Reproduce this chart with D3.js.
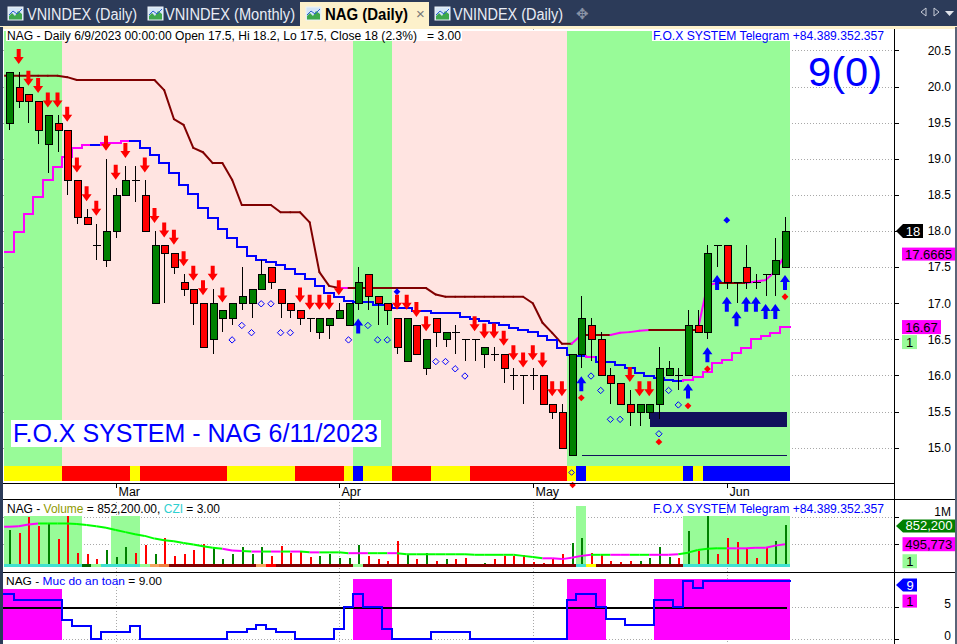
<!DOCTYPE html>
<html><head><meta charset="utf-8">
<script src="https://cdn.jsdelivr.net/npm/d3@7"></script>
<style>
body{margin:0;background:#fff;overflow:hidden}
svg{display:block}
text{font-family:"Liberation Sans",Arial,sans-serif;white-space:pre}
</style></head><body>
<svg id="c" width="957" height="644"></svg>
<script>
// ---------------- DATA ----------------
const dates = ["2023-02-14","2023-02-15","2023-02-16","2023-02-17","2023-02-20","2023-02-21","2023-02-22","2023-02-23","2023-02-24","2023-02-27","2023-02-28",
"2023-03-01","2023-03-02","2023-03-03","2023-03-06","2023-03-07","2023-03-08","2023-03-09","2023-03-10","2023-03-13","2023-03-14","2023-03-15","2023-03-16","2023-03-17","2023-03-20","2023-03-21","2023-03-22","2023-03-23","2023-03-24","2023-03-27","2023-03-28","2023-03-29","2023-03-30","2023-03-31",
"2023-04-03","2023-04-04","2023-04-05","2023-04-06","2023-04-07","2023-04-10","2023-04-11","2023-04-12","2023-04-13","2023-04-14","2023-04-17","2023-04-18","2023-04-19","2023-04-20","2023-04-21","2023-04-24","2023-04-25","2023-04-26","2023-04-27","2023-04-28",
"2023-05-04","2023-05-05","2023-05-08","2023-05-09","2023-05-10","2023-05-11","2023-05-12","2023-05-15","2023-05-16","2023-05-17","2023-05-18","2023-05-19","2023-05-22","2023-05-23","2023-05-24","2023-05-25","2023-05-26","2023-05-29","2023-05-30","2023-05-31",
"2023-06-01","2023-06-02","2023-06-05","2023-06-06","2023-06-07","2023-06-08","2023-06-09"];
const open = [19.5,20.0,19.9,19.8,19.2,19.5,19.4,18.7,18.2,17.8, 17.6,18.0,18.5,18.7,18.5,17.0,17.8,17.7,17.3,17.2, 17.0,16.5,16.8,16.8,17.0,17.0,17.2,17.5,17.2,17.0, 16.9,16.8,16.6,16.7,16.8,16.7,17.0,17.4,17.1,17.0, 16.8,16.2,16.7,16.1,16.8,16.5,16.6,16.5,16.5,16.3, 16.3,16.3,16.0,16.0,16.0,16.0,15.6,15.5,14.9,16.3, 16.7,16.5,16.0,15.9,15.6,15.5,15.5,15.6,16.0,16.0, 16.0,16.7,16.6,17.8,17.8,17.3,17.5,17.3,17.4,17.4, 17.5];
const high = [20.2,20.2,19.9,19.8,19.6,19.6,19.4,18.7,18.3,18.1, 19.0,18.6,18.9,18.9,18.7,18.0,17.8,17.7,17.4,17.2, 17.0,17.2,16.9,17.0,17.5,17.2,17.6,17.5,17.2,17.0, 16.9,16.8,16.8,16.8,17.0,17.0,17.5,17.4,17.1,17.0, 16.8,16.8,16.7,16.5,16.8,16.6,16.7,16.5,16.5,16.4, 16.4,16.3,16.1,16.0,16.1,16.0,15.6,15.6,16.3,17.1, 16.8,16.6,16.1,15.9,15.8,15.6,15.6,16.4,16.2,16.1, 16.9,16.9,17.8,17.8,17.8,17.3,17.8,17.4,17.4,17.9, 18.2];
const low = [19.4,19.7,19.5,19.2,18.8,19.1,18.5,18.1,18.1,17.6, 17.5,17.9,18.5,18.4,18.0,17.0,17.0,17.4,17.1,16.7, 16.4,16.3,16.6,16.7,16.9,16.8,17.2,17.2,16.8,16.8, 16.7,16.6,16.5,16.5,16.8,16.7,16.9,16.9,16.7,16.7, 16.3,16.2,16.3,16.0,16.4,16.4,16.3,16.2,16.2,16.1, 16.2,15.9,15.8,15.6,15.8,15.6,15.4,15.0,14.9,16.1, 16.2,16.0,15.6,15.6,15.3,15.3,15.4,15.4,16.0,15.8, 16.0,16.6,16.5,17.5,17.2,17.0,17.2,17.2,17.1,17.1, 17.5];
const close = [20.2,19.8,19.8,19.4,19.6,19.4,18.7,18.2,18.1,17.8, 18.0,18.5,18.7,18.7,18.0,17.8,17.7,17.5,17.2,17.0, 16.4,17.0,16.9,17.0,17.1,17.2,17.4,17.3,17.0,16.9, 16.8,16.8,16.8,16.8,16.9,17.0,17.3,17.1,17.0,16.9, 16.4,16.8,16.3,16.5,16.6,16.6,16.6,16.5,16.5,16.4, 16.3,16.1,16.0,16.0,16.0,15.6,15.5,15.0,16.3,16.8, 16.5,16.0,15.9,15.6,15.5,15.6,15.6,16.1,16.1,16.0, 16.7,16.6,17.7,17.8,17.3,17.3,17.3,17.3,17.4,17.6, 18.0];
// trailing stop line (upper) and step line (lower)
const stopLine = [20.15,20.15,20.15,20.15,20.15,20.15,20.13,20.09,20.09,20.09, 20.09,20.09,20.09,20.09,20.09,20.09,19.95,19.55,19.47,19.15, 19.09,18.94,18.94,18.71,18.36,18.36,18.36,18.36,18.26,18.26, 18.26,18.12,17.43,17.24,17.21,17.21,17.21,17.21,17.21,17.21, 17.21,17.21,17.21,17.21,17.12,17.09,17.09,17.09,17.09,17.09, 17.09,17.09,17.09,17.09,17.00,16.73,16.59,16.44,16.44,16.56, 16.56,16.56,16.56,16.59,16.60,16.62,16.63,16.63,16.63,16.63, 16.63,16.63,17.25,17.28,17.28,17.28,17.28,17.30,17.32,17.44, 17.6665];
const stopColor = ("KKKKKKKKKKKKKKKKKKKKKKKKKKKKKKKKKKK"+"M"+"KKKKKKKKKKKKKKKKKKKKKKK"+"M"+"KKK"+"MMMM"+"KKKKK"+"MM"+"KKK"+"MMMM").split("");
const stepLine = [17.71,17.99,18.24,18.47,18.71,18.89,19.02,19.15,19.19,19.19, 19.22,19.22,19.25,19.25,19.15,19.05,18.94,18.80,18.64,18.51, 18.32,18.18,18.03,17.90,17.78,17.65,17.60,17.57,17.53,17.47, 17.41,17.33,17.24,17.14,17.08,17.03,17.02,17.02,16.98,16.98, 16.93,16.93,16.89,16.89,16.86,16.86,16.86,16.81,16.78,16.75, 16.73,16.70,16.66,16.63,16.60,16.55,16.49,16.38,16.28,16.27, 16.26,16.19,16.19,16.14,16.10,16.03,15.99,15.96,15.94,15.92, 15.94,15.98,16.05,16.17,16.21,16.31,16.38,16.51,16.55,16.59, 16.67];
const stepColor = ("MMMMMMMMM"+"B"+"MMM"+"BBBBBBBBBBBBBBBBBBBBBBBBBBBBBBBBBBBBBBBBBBBBBBB"+"M"+"BBBBBBBBB"+"MMMMMMMMMMM").split("");
// background zones (G = buy zone, P = sell zone) and signal band
const zone = ("GGGGGG"+"PPPPPPPPPPPPPPPPPPPPPPPPPPPPPP"+"GGGG"+"PPPPPPPPPPPPPPPPPP"+"GGGGGGGGGGGGGGGGGGGGGGG").split("");
const band = ("YYYYYY"+"RRRRRRR"+"Y"+"RRRRRRRRR"+"YYYYYYY"+"RRRRR"+"Y"+"B"+"YYY"+"RRRR"+"YYYY"+"RRRRRRRRRR"+"Y"+"B"+"YYYYYYYYYY"+"B"+"Y"+"BBBBBBBBB").split("");
// signal markers (bar indices / price levels)
const sellArrows = [1,2,3,4,5,6,7,8,9,10,11,12,14,15,16,17,18,19,20,21,22,30,31,32,33,34,40,41,42,43,48,49,50,51,52,53,54,55,56,57,64,65,66];
const buyArrows = [36,59,70,72,73,74,75,76,77,78,79,80];
const hollowDiamonds = [23,24,25,26,27,28,29,35,37,38,39,44,45,46,47,60,61,62,63,67,68,69];
const redDiamondBars = [59,67,70,72,80];
const redDiamondPrice = [15.69,15.08,15.58,16.09,17.09];
const blueDiamondBars = [40,74];
const blueDiamondPrice = [17.16,18.15];
const bandMarkBar = [58];
const axisMarkBar = [58];
const supportBox = [66, 15.28, 15.49];   // from bar, low, high
const baseLine = [59, 14.9];            // from bar, level
const priceTicks = [15.0,15.5,16.0,16.5,17.0,17.5,18.0,18.5,19.0,19.5,20.0,20.5];
// volume pane
const volume = [760000,710000,1000000,830000,880000,590000,1020000,340000,320000,230000, 390000,260000,440000,340000,480000,320000,620000,280000,320000,380000, 500000,440000,220000,310000,440000,310000,450000,280000,470000,340000, 370000,260000,280000,310000,250000,250000,480000,280000,220000,180000, 550000,310000,220000,340000,180000,230000,220000,250000,60000,150000, 220000,280000,280000,300000,170000,150000,220000,320000,520000,620000, 340000,310000,180000,170000,180000,180000,250000,450000,260000,250000, 740000,370000,1020000,310000,620000,530000,420000,250000,450000,550000, 852200];
const volMA = [820000,830000,860000,880000,880000,880000,880000,870000,850000,830000, 800000,760000,720000,680000,650000,600000,570000,550000,520000,490000, 460000,430000,410000,380000,370000,360000,360000,360000,360000,360000, 360000,345000,345000,345000,345000,330000,330000,330000,330000,330000, 330000,310000,310000,310000,310000,310000,310000,310000,300000,300000, 300000,300000,300000,280000,260000,235000,235000,220000,245000,280000, 300000,300000,300000,300000,300000,300000,300000,300000,300000,310000, 340000,390000,410000,420000,420000,420000,420000,430000,430000,470000, 495773];
const maColor = ("MMMM"+"LLLLLLLLLLLLLLLLLLL"+"MM"+"L"+"M"+"L"+"M"+"L"+"M"+"L"+"M"+"LLL"+"MM"+"LL"+"M"+"LLLLLLLLLLLLLLL"+"MMMMM"+"LL"+"MM"+"LL"+"MMM"+"LLLLL"+"MMMMMM").split("");
const volZone = ("11111111"+"000"+"111"+"000000000000000000000000000000000000000000000"+"2"+"0000000000"+"11111111111").split("");
const volStrip = ("TTTTTTTT"+"D"+"G"+"TTTT"+"G"+"O"+"N"+"KKKKKKKKK"+"O"+"R"+"KKKKKKKK"+"G"+"KKKKKKKKKKKKKKKKKKKKKK"+"T"+"Y"+"KKKKKKKKK"+"TTTTTTTTTTT").split("");
const volTicks = [500000,1000000];
// safety level pane
const safety = [7,6,6,6,6,6,3,2,2,0, 1,1,1,2,0,0,0,0,0,0, 0,0,0,1,1,1.5,2.2,1.5,1,1, 0,0,0,0,1.5,5,7,5,5,1.5, 0,0,0,0,1,1,1,1,0,0, 0,0,0,0,0,0,0,0,6,7, 7,5,3.1,3.1,2.2,2.2,2.2,6,6,5, 9,8,9,9,9,9,9,9,9,9, 9];
const safeZone = ("aaaaaa"+"000000000000000000000000000000"+"bbbb"+"000000000000000000"+"bbbb"+"00000"+"bbbbbbbbbbbbbb").split("");
const safeTicks = [0,5];

// ---------------- LAYOUT ----------------
const svg = d3.select("#c");
const W=957, L=3, R=894;
const shadeTop=31, bandTop=466, bandBot=481, mainBot=483, dateBot=499, volBot=572, H=644;
const x = d3.scaleLinear().domain([0,80]).range([9,785]);
const half = 4.85;
const yP = d3.scaleLinear().domain([15,18]).range([447.7,231]);
const yV = d3.scaleLinear().domain([0,1e6]).range([571,517]);
const yS = d3.scaleLinear().domain([0,5]).range([638.7,606.7]);
const COL = {G:"#98FB98",P:"#FFE4E1",Y:"#FFFF00",R:"#FF0000",B:"#0000FF",K:"#800000",M:"#FF00FF",L:"#00FF00",
  T:"#40E0D0",D:"#006400",O:"#F4A460",N:"#EE8040"};
function runs(arr){const out=[];let s=0;for(let i=1;i<=arr.length;i++){if(i===arr.length||arr[i]!==arr[s]){out.push({v:arr[s],s:s,e:i-1});s=i;}}return out;}
const monthIdx = dates.map((d,i)=>i).filter(i=>i>0 && dates[i].slice(5,7)!==dates[i-1].slice(5,7));
const fmtMonth = d3.timeFormat("%b"), parse = d3.timeParse("%Y-%m-%d");
function multiText(x0,y,parts,size,family,targetW){
  const g=svg.append("g");
  let cx=0;
  parts.forEach(p=>{const t=g.append("text").attr("x",cx).attr("y",0).attr("font-size",size).attr("fill",p.c).text(p.t);
    if(family) t.attr("font-family",family);
    cx+=t.node().getComputedTextLength();});
  g.attr("transform",`translate(${x0},${y}) scale(${targetW/cx},1)`);
}

svg.append("rect").attr("width",W).attr("height",H).attr("fill","#fff");

// ---------------- TAB BAR ----------------
svg.append("rect").attr("width",W).attr("height",27).attr("fill","#2c3b59");
svg.append("rect").attr("y",26).attr("width",W).attr("height",3).attr("fill","#fdf1cb");
svg.append("rect").attr("x",300).attr("y",2).attr("width",129).attr("height",26).attr("fill","#fdf1cb");
function icon(x0,y0){
  svg.append("rect").attr("x",x0).attr("y",y0).attr("width",15).attr("height",13).attr("fill","#d4e6f6").attr("stroke","#eef3f8");
  svg.append("path").attr("d",`M${x0+1},${y0+12.5}V${y0+9}L${x0+4},${y0+6}L${x0+7},${y0+9}L${x0+10},${y0+4}L${x0+14},${y0+7}V${y0+12.5}Z`).attr("fill","#3ea84c");
  svg.append("path").attr("d",`M${x0+1},${y0+8}L${x0+5},${y0+4}L${x0+9},${y0+7}L${x0+14},${y0+2}`).attr("fill","none").attr("stroke","#2a5fd0").attr("stroke-width",1);
}
icon(8,7); icon(148,7); icon(306,7); icon(435,7);
const tabs=[{t:"VNINDEX (Daily)",x:27,w:110,c:"#e9edf5",b:false},{t:"VNINDEX (Monthly)",x:165,w:130,c:"#e9edf5",b:false},
  {t:"NAG (Daily)",x:325,w:83,c:"#000",b:true},{t:"VNINDEX (Daily)",x:453,w:110,c:"#e9edf5",b:false}];
tabs.forEach(d=>svg.append("text").attr("x",d.x).attr("y",20).attr("font-size",16).attr("font-family","'Noto Sans','Open Sans',sans-serif")
  .attr("font-weight",d.b?"bold":"normal").attr("fill",d.c).attr("textLength",d.w).attr("lengthAdjust","spacingAndGlyphs").text(d.t));
svg.append("text").attr("x",416).attr("y",19).attr("font-size",15).attr("fill","#777").text("×");
svg.append("text").attr("x",576).attr("y",19).attr("font-size",15).attr("fill","#8a93a6").text("✥");
svg.append("path").attr("d","M921,12L926,8V16Z").attr("fill","none").attr("stroke","#c8cdd8");
svg.append("path").attr("d","M934,8L939,12L934,16Z").attr("fill","none").attr("stroke","#c8cdd8");
svg.append("path").attr("d","M945,11H954L949.5,16Z").attr("fill","#e0e3ea");

// ---------------- MAIN PANE ----------------
const gm = svg.append("g").attr("shape-rendering","crispEdges");
priceTicks.forEach(v=>gm.append("line").attr("x1",L).attr("x2",R).attr("y1",Math.round(yP(v))+0.5).attr("y2",Math.round(yP(v))+0.5).attr("stroke","#a8a8a8").attr("stroke-dasharray","1,2"));
monthIdx.forEach(i=>{
  [[29,bandTop],[dateBot,volBot],[volBot,H]].forEach(([a,b])=>gm.append("line").attr("x1",Math.round(x(i))+0.5).attr("x2",Math.round(x(i))+0.5).attr("y1",a).attr("y2",b).attr("stroke","#a8a8a8").attr("stroke-dasharray","1,2"));
});
runs(zone).forEach(r=>gm.append("rect").attr("x",x(r.s)-half).attr("width",x(r.e)-x(r.s)+2*half).attr("y",shadeTop).attr("height",bandTop-shadeTop).attr("fill",COL[r.v]));
runs(band).forEach(r=>gm.append("rect").attr("x",x(r.s)-half).attr("width",x(r.e)-x(r.s)+2*half).attr("y",bandTop).attr("height",bandBot-bandTop).attr("fill",COL[r.v]));

// support box & base line
gm.append("rect").attr("x",x(supportBox[0])+1).attr("width",x(80)+2-x(supportBox[0])-1).attr("y",yP(supportBox[2])).attr("height",yP(supportBox[1])-yP(supportBox[2])).attr("fill","#11115c");
gm.append("line").attr("x1",x(baseLine[0])+1).attr("x2",x(80)+2).attr("y1",Math.round(yP(baseLine[1]))+0.5).attr("y2",Math.round(yP(baseLine[1]))+0.5).attr("stroke","#11115c");

// lines
const gl = svg.append("g");
for(let i=1;i<stopLine.length;i++){
  gl.append("line").attr("x1",x(i-1)).attr("y1",yP(stopLine[i-1])).attr("x2",x(i)).attr("y2",yP(stopLine[i])).attr("stroke",COL[stopColor[i]]).attr("stroke-width",2).attr("stroke-linecap","round");
}
gl.append("line").attr("x1",x(0)-half).attr("x2",x(0)).attr("y1",yP(stopLine[0])).attr("y2",yP(stopLine[0])).attr("stroke",COL.K).attr("stroke-width",2);
const gs = svg.append("g").attr("shape-rendering","crispEdges");
for(let i=0;i<stepLine.length;i++){
  const c=COL[stepColor[i]], yy=Math.round(yP(stepLine[i]));
  gs.append("rect").attr("x",Math.round(x(i)-half)).attr("width",Math.round(x(i)+half)-Math.round(x(i)-half)+1).attr("y",yy-1).attr("height",2).attr("fill",c);
  if(i>0){const yp=Math.round(yP(stepLine[i-1]));
    gs.append("rect").attr("x",Math.round(x(i)-half)-1).attr("width",2).attr("y",Math.min(yy,yp)-1).attr("height",Math.abs(yy-yp)+2).attr("fill",c);}
}

// candles
const gc = svg.append("g").attr("shape-rendering","crispEdges");
dates.forEach((d,i)=>{
  const cx=Math.round(x(i))+0.5;
  gc.append("line").attr("x1",cx).attr("x2",cx).attr("y1",Math.round(yP(high[i]))).attr("y2",Math.round(yP(low[i]))).attr("stroke","#000");
  if(open[i]===close[i]){
    gc.append("line").attr("x1",cx-4).attr("x2",cx+4).attr("y1",Math.round(yP(close[i]))+0.5).attr("y2",Math.round(yP(close[i]))+0.5).attr("stroke","#000");
  } else {
    const t=Math.round(yP(Math.max(open[i],close[i]))), b=Math.round(yP(Math.min(open[i],close[i])));
    gc.append("rect").attr("x",cx-3.5).attr("width",7).attr("y",t+0.5).attr("height",b-t).attr("fill",close[i]>open[i]?"#008000":"#FF0000").attr("stroke","#000");
  }
});

// markers
const gk = svg.append("g");
sellArrows.forEach(i=>{const cx=x(i),ty=yP(high[i])-8;
  gk.append("path").attr("d",`M${cx-2},${ty-15}H${cx+2}V${ty-7}H${cx+5}L${cx},${ty}L${cx-5},${ty-7}H${cx-2}Z`).attr("fill","#FF0000");});
buyArrows.forEach(i=>{const cx=x(i),ty=yP(low[i])+8;
  gk.append("path").attr("d",`M${cx-2},${ty+15}H${cx+2}V${ty+7}H${cx+5}L${cx},${ty}L${cx-5},${ty+7}H${cx-2}Z`).attr("fill","#0000FF");});
const dia=(cx,cy,r)=>`M${cx},${cy-r}L${cx+r},${cy}L${cx},${cy+r}L${cx-r},${cy}Z`;
hollowDiamonds.forEach(i=>gk.append("path").attr("d",dia(x(i),yP(low[i])+15,3.2)).attr("fill","none").attr("stroke","#0000FF"));
redDiamondBars.forEach((i,k)=>gk.append("path").attr("d",dia(x(i),yP(redDiamondPrice[k]),3.4)).attr("fill","#FF0000"));
blueDiamondBars.forEach((i,k)=>gk.append("path").attr("d",dia(x(i),yP(blueDiamondPrice[k]),3.4)).attr("fill","#0000FF"));
bandMarkBar.forEach(i=>gk.append("path").attr("d",dia(x(i),(bandTop+bandBot)/2-1,2.8)).attr("fill","none").attr("stroke","#0000FF"));

// texts main
svg.append("rect").attr("x",6).attr("y",29).attr("width",456).attr("height",12).attr("fill","#fff");
svg.append("text").attr("x",7).attr("y",39.5).attr("font-size",12.5).attr("fill","#000").attr("textLength",454).attr("lengthAdjust","spacingAndGlyphs")
  .text("NAG - Daily 6/9/2023 00:00:00 Open 17.5, Hi 18.2, Lo 17.5, Close 18 (2.3%)   = 3.00");
svg.append("rect").attr("x",652).attr("y",29).attr("width",233).attr("height",12).attr("fill","#fff");
svg.append("text").attr("x",653).attr("y",39.5).attr("font-size",12.5).attr("fill","#0000FF").attr("textLength",231).attr("lengthAdjust","spacingAndGlyphs")
  .text("F.O.X SYSTEM Telegram +84.389.352.357");
svg.append("text").attr("x",808).attr("y",86).attr("font-size",40).attr("fill","#0000FF").attr("textLength",74).attr("lengthAdjust","spacingAndGlyphs").text("9(0)");
svg.append("rect").attr("x",11).attr("y",420).attr("width",370).attr("height",27).attr("fill","#fff");
svg.append("text").attr("x",13).attr("y",441.5).attr("font-size",25).attr("fill","#0000FF").attr("textLength",365).attr("lengthAdjust","spacingAndGlyphs")
  .text("F.O.X SYSTEM - NAG 6/11/2023");

// ---------------- DATE AXIS ----------------
const ga = svg.append("g").attr("shape-rendering","crispEdges");
monthIdx.forEach(i=>{
  const xx=Math.round(x(i))+0.5;
  ga.append("line").attr("x1",xx).attr("x2",xx).attr("y1",mainBot).attr("y2",mainBot+5).attr("stroke","#000");
  svg.append("text").attr("x",xx+2).attr("y",495.5).attr("font-size",12.5).attr("fill","#000").text(fmtMonth(parse(dates[i])));
});
axisMarkBar.forEach(i=>svg.append("path").attr("d",dia(x(i)+1,mainBot+2,3.2)).attr("fill","#FF0000"));

// ---------------- VOLUME PANE ----------------
const gv = svg.append("g").attr("shape-rendering","crispEdges");
volTicks.forEach(v=>gv.append("line").attr("x1",L).attr("x2",R).attr("y1",Math.round(yV(v))+0.5).attr("y2",Math.round(yV(v))+0.5).attr("stroke","#a8a8a8").attr("stroke-dasharray","1,2"));
runs(volZone).filter(r=>r.v!=="0").forEach(r=>gv.append("rect").attr("x",x(r.s)-half).attr("width",x(r.e)-x(r.s)+2*half)
  .attr("y",r.v==="2"?506:516).attr("height",(r.v==="2"?566-506:566-516)).attr("fill",COL.G));
volume.forEach((v,i)=>gv.append("rect").attr("x",Math.round(x(i))-0.5).attr("width",2).attr("y",yV(v)).attr("height",565-yV(v))
  .attr("fill",close[i]>open[i]?"#008000":"#FF0000"));
runs(volStrip).forEach(r=>gv.append("rect").attr("x",x(r.s)-half).attr("width",x(r.e)-x(r.s)+2*half).attr("y",563.5).attr("height",3).attr("fill",COL[r.v]));
for(let i=1;i<volMA.length;i++){
  svg.append("line").attr("x1",x(i-1)).attr("y1",yV(volMA[i-1])).attr("x2",x(i)).attr("y2",yV(volMA[i])).attr("stroke",COL[maColor[i]]).attr("stroke-width",2);
}
svg.append("line").attr("x1",x(0)-half).attr("x2",x(0)).attr("y1",yV(volMA[0])).attr("y2",yV(volMA[0])).attr("stroke",COL.M).attr("stroke-width",2);
multiText(7,512.5,[{t:"NAG - ",c:"#000"},{t:"Volume",c:"#8f9a00"},{t:" = 852,200.00, ",c:"#000"},{t:"CZI",c:"#2fd0d0"},{t:" = 3.00",c:"#000"}],12.5,null,213);
svg.append("text").attr("x",653).attr("y",512.5).attr("font-size",12.5).attr("fill","#0000FF").attr("textLength",231).attr("lengthAdjust","spacingAndGlyphs")
  .text("F.O.X SYSTEM Telegram +84.389.352.357");

// ---------------- SAFETY PANE ----------------
const gb = svg.append("g").attr("shape-rendering","crispEdges");
safeTicks.forEach(v=>gb.append("line").attr("x1",L).attr("x2",R).attr("y1",Math.round(yS(v))+0.5).attr("y2",Math.round(yS(v))+0.5).attr("stroke","#a8a8a8").attr("stroke-dasharray","1,2"));
runs(safeZone).filter(r=>r.v!=="0").forEach(r=>{
  const top = r.v==="a"?yS(7.8):yS(9.4);
  const x0 = r.s===0?L:x(r.s)-half;
  gb.append("rect").attr("x",x0).attr("width",x(r.e)+half-x0).attr("y",top).attr("height",yS(0)+1-top).attr("fill","#FF00FF");
});
gb.append("line").attr("x1",L).attr("x2",x(80)+2).attr("y1",Math.round(yS(5))+0.5).attr("y2",Math.round(yS(5))+0.5).attr("stroke","#000").attr("stroke-width",2);
for(let i=0;i<safety.length;i++){
  const yy=Math.round(yS(safety[i])), x0=Math.round(i===0?L:x(i)-half), x1=Math.round(x(i)+half);
  gb.append("rect").attr("x",x0).attr("width",x1-x0+1).attr("y",yy-1).attr("height",2).attr("fill","#0000FF");
  if(i>0){const yp=Math.round(yS(safety[i-1]));
    gb.append("rect").attr("x",x0-1).attr("width",2).attr("y",Math.min(yy,yp)-1).attr("height",Math.abs(yy-yp)+2).attr("fill","#0000FF");}
}
multiText(6,585,[{t:"NAG - ",c:"#000"},{t:"Muc do an toan",c:"#0000FF"},{t:" = 9.00",c:"#000"}],11.5,"'Liberation Sans Narrow','DejaVu Sans Condensed',sans-serif",156);

// ---------------- FRAMES ----------------
const gf = svg.append("g").attr("shape-rendering","crispEdges");
gf.append("line").attr("x1",L).attr("x2",R).attr("y1",mainBot+0.5).attr("y2",mainBot+0.5).attr("stroke","#000");
gf.append("line").attr("x1",L).attr("x2",W).attr("y1",dateBot+0.5).attr("y2",dateBot+0.5).attr("stroke","#000");
gf.append("line").attr("x1",L).attr("x2",W).attr("y1",volBot+0.5).attr("y2",volBot+0.5).attr("stroke","#000");
gf.append("line").attr("x1",R+0.5).attr("x2",R+0.5).attr("y1",29).attr("y2",H).attr("stroke","#000");
gf.append("rect").attr("x",0).attr("y",27).attr("width",3).attr("height",H-27).attr("fill","#2c3b59");
gf.append("rect").attr("x",955).attr("y",27).attr("width",2).attr("height",H-27).attr("fill","#5a6478");

// ---------------- RIGHT AXES ----------------
function axisAt(scale, ticks, fmt, dy){
  const g = svg.append("g").attr("transform",`translate(${R},0)`)
    .call(d3.axisRight(scale).tickValues(ticks).tickSize(5).tickFormat(fmt));
  g.select(".domain").remove();
  g.selectAll("line").attr("stroke","#000").attr("shape-rendering","crispEdges");
  g.selectAll("text").attr("x",57).attr("text-anchor","end").attr("font-size",12).attr("fill","#000")
    .attr("font-family","'Liberation Sans',Arial,sans-serif");
  if(dy) g.selectAll("text").attr("dy",dy);
  return g;
}
axisAt(yP, priceTicks, d3.format(".1f"));
axisAt(yV, [1000000], v=>"1M", "-0.15em");
svg.append("g").attr("transform",`translate(${R},0)`).call(d3.axisRight(yV).tickValues([500000]).tickSize(5).tickFormat(""))
  .call(g=>{g.select(".domain").remove();g.selectAll("line").attr("stroke","#000").attr("shape-rendering","crispEdges");});
axisAt(yS, safeTicks, d3.format("d"), "0.1em");

function tag(xl, xr, yc, h, fill, tc, txt, arrow){
  const g=svg.append("g");
  if(arrow){
    g.append("path").attr("d",`M${xl-7},${yc}L${xl},${yc-h/2}H${xr}V${yc+h/2}H${xl}Z`).attr("fill",fill);
  } else g.append("rect").attr("x",xl).attr("y",yc-h/2).attr("width",xr-xl).attr("height",h).attr("fill",fill);
  g.append("text").attr("x",(xl+xr)/2).attr("y",yc+4.5).attr("text-anchor","middle").attr("font-size",13).attr("fill",tc).text(txt);
}
tag(903,923,yP(close[80]),14,"#000","#fff",String(close[80]),true);
tag(902,955,yP(stopLine[80])-1,13,"#FF00FF","#000",String(stopLine[80]),false);
tag(902,941,yP(stepLine[80]),14,"#FF00FF","#000",String(stepLine[80]),false);
tag(902,917,yP(stepLine[80])+15,14,"#98FB98","#000","1",false);
tag(903,955,yV(volume[80])+1,13,"#008000","#fff",d3.format(",")(volume[80]),true);
tag(902.5,955,yV(volMA[80]),14,"#FF00FF","#000",d3.format(",")(volMA[80]),false);
tag(902.5,917,yV(volMA[80])+17,14,"#98FB98","#000","1",false);
tag(903,917,yS(safety[80])+4,13,"#0000FF","#fff",String(safety[80]),true);
tag(902.5,917,yS(safety[80])+20,13,"#FF00FF","#000","1",false);
</script>
</body></html>
